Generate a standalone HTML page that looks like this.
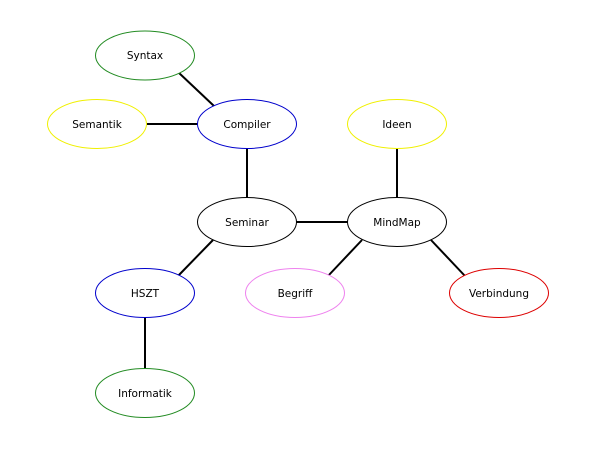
<!DOCTYPE html>
<html><head><meta charset="utf-8"><style>html,body{margin:0;padding:0;background:#fff}</style></head>
<body>
<svg width="602" height="451" xmlns="http://www.w3.org/2000/svg" font-family="'DejaVu Sans', 'Liberation Sans', sans-serif" font-size="10.5">
<g stroke="#000" stroke-width="2">
<line x1="178" y1="72" x2="214" y2="106"/>
<line x1="147" y1="124" x2="198" y2="124"/>
<line x1="247" y1="148" x2="247" y2="199"/>
<line x1="296" y1="222" x2="348" y2="222"/>
<line x1="397" y1="148" x2="397" y2="199"/>
<line x1="213" y1="240" x2="178" y2="276"/>
<line x1="362" y1="240" x2="328" y2="276"/>
<line x1="431" y1="240" x2="465" y2="276"/>
<line x1="145" y1="317" x2="145" y2="369"/>
</g>
<g fill="#fff" stroke-width="1">
<ellipse cx="145" cy="55.5" rx="49.5" ry="24.5" stroke="#228b22"/>
<ellipse cx="97" cy="124" rx="49.5" ry="24.5" stroke="#f0f000"/>
<ellipse cx="247" cy="124" rx="49.5" ry="24.5" stroke="#0000cc"/>
<ellipse cx="397" cy="124" rx="49.5" ry="24.5" stroke="#f0f000"/>
<ellipse cx="247" cy="222" rx="49.5" ry="24.5" stroke="#000"/>
<ellipse cx="397" cy="222" rx="49.5" ry="24.5" stroke="#000"/>
<ellipse cx="145" cy="293" rx="49.5" ry="24.5" stroke="#0000cc"/>
<ellipse cx="295" cy="293" rx="49.5" ry="24.5" stroke="#ee82ee"/>
<ellipse cx="499" cy="293" rx="49.5" ry="24.5" stroke="#dd0000"/>
<ellipse cx="145" cy="393" rx="49.5" ry="24.5" stroke="#228b22"/>
</g>
<g text-anchor="middle" fill="#000">
<text x="145" y="59">Syntax</text>
<text x="97" y="128">Semantik</text>
<text x="247" y="128">Compiler</text>
<text x="397" y="128">Ideen</text>
<text x="247" y="226">Seminar</text>
<text x="397" y="226">MindMap</text>
<text x="145" y="297">HSZT</text>
<text x="295" y="297">Begriff</text>
<text x="499" y="297">Verbindung</text>
<text x="145" y="397">Informatik</text>
</g>
</svg>
</body></html>
